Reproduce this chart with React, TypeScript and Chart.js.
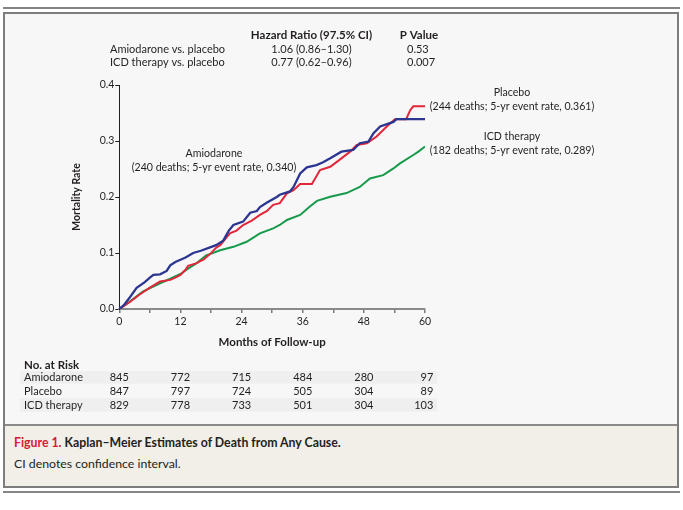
import React, { useEffect, useRef } from "react";
import { Chart, registerables } from "chart.js";
Chart.register(...registerables);

const FONT = "Lato, 'Open Sans', sans-serif";
const TEXT = "#231f20";

// ---- data ----
const amioMonths = [0, 1, 2, 3.4, 5, 6, 6.7, 8, 9.3, 10, 11, 12, 13, 14.5, 16, 17.8, 19, 20.4, 21.5, 22.4, 24.3, 25.7, 27, 27.6, 29, 30.9, 31.5, 33.5, 34.2, 35.5, 36.8, 38.7, 40, 41.4, 43.6, 45.9, 47.2, 48.9, 49.9, 51.2, 53.8, 54.4, 60];
const amioRates = [0, 0.008, 0.02, 0.038, 0.048, 0.056, 0.061, 0.062, 0.068, 0.078, 0.084, 0.088, 0.092, 0.1, 0.104, 0.11, 0.114, 0.122, 0.14, 0.15, 0.156, 0.172, 0.175, 0.182, 0.19, 0.2, 0.204, 0.21, 0.218, 0.242, 0.253, 0.257, 0.262, 0.269, 0.281, 0.284, 0.296, 0.299, 0.314, 0.326, 0.334, 0.339, 0.339];

const placeboMonths = [0, 2, 4, 6, 8, 10, 11, 12, 13, 13.5, 15.2, 15.8, 16.5, 17.8, 19.1, 19.8, 21.7, 23, 24.3, 26, 27.6, 29, 30.2, 31.5, 32.9, 34.2, 35.5, 37.8, 39.4, 41.4, 43.6, 45.3, 46.6, 48.6, 50.5, 52.5, 54.1, 56.3, 57.1, 57.7, 60];
const placeboRates = [0, 0.012, 0.026, 0.038, 0.049, 0.052, 0.056, 0.061, 0.07, 0.077, 0.082, 0.085, 0.088, 0.098, 0.11, 0.114, 0.135, 0.14, 0.15, 0.158, 0.168, 0.175, 0.186, 0.189, 0.2066, 0.212, 0.223, 0.223, 0.248, 0.254, 0.269, 0.281, 0.293, 0.296, 0.308, 0.326, 0.339, 0.339, 0.355, 0.362, 0.362];

const icdMonths = [0, 2, 4.6, 8, 10, 12, 13.5, 15.2, 17.1, 17.8, 19.8, 22.4, 25, 27.6, 30.2, 31.5, 32.9, 35.5, 37.4, 38.8, 41.4, 44.6, 47.2, 49.2, 51.8, 53.8, 55.1, 57.7, 58.7, 60];
const icdRates = [0, 0.013, 0.031, 0.046, 0.054, 0.0625, 0.072, 0.082, 0.096, 0.098, 0.105, 0.111, 0.12, 0.135, 0.144, 0.15, 0.159, 0.168, 0.183, 0.193, 0.2005, 0.207, 0.218, 0.233, 0.239, 0.251, 0.26, 0.275, 0.281, 0.29];

const riskMonths = [0, 12, 24, 36, 48, 60];
const riskGroups = ["Amiodarone", "Placebo", "ICD therapy"];
const riskAmio = [845, 772, 715, 484, 280, 97];
const riskPlacebo = [847, 797, 724, 505, 304, 89];
const riskIcd = [829, 778, 733, 501, 304, 103];

const hrComparisons = ["Amiodarone vs. placebo", "ICD therapy vs. placebo"];
const hrValues = ["1.06 (0.86–1.30)", "0.77 (0.62–0.96)"];
const pValues = ["0.53", "0.007"];

const groupNames = ["Amiodarone", "Placebo", "ICD therapy"];
const groupNotes = [
  "(240 deaths; 5-yr event rate, 0.340)",
  "(244 deaths; 5-yr event rate, 0.361)",
  "(182 deaths; 5-yr event rate, 0.289)",
];

const COLORS = { amio: "#2c3590", placebo: "#e2273a", icd: "#179a4b" };

const textPlugin = {
  id: "textPlugin",
  afterDraw(chart: any) {
    const ctx = chart.ctx as CanvasRenderingContext2D;
    const xs = chart.scales.x;
    ctx.save();
    ctx.fillStyle = TEXT;
    ctx.textBaseline = "middle";

    // hazard table
    ctx.font = `bold 11.5px ${FONT}`;
    ctx.textAlign = "center";
    ctx.fillText("Hazard Ratio (97.5% CI)", 306.5, 21);
    ctx.fillText("P Value", 414, 21);
    ctx.font = `11px ${FONT}`;
    hrComparisons.forEach((c, i) => {
      const y = 35.3 + i * 13.4;
      ctx.textAlign = "left";
      ctx.fillText(c, 105, y);
      ctx.textAlign = "center";
      ctx.fillText(hrValues[i], 306.5, y);
      ctx.textAlign = "left";
      ctx.fillText(pValues[i], 402, y);
    });

    // curve annotations
    ctx.font = `10.6px ${FONT}`;
    ctx.textAlign = "center";
    const ann = [
      [209, 139.3],
      [507, 78.7],
      [507, 122.7],
    ];
    groupNames.forEach((g, i) => {
      ctx.fillText(g, ann[i][0], ann[i][1]);
      ctx.fillText(groupNotes[i], ann[i][0], ann[i][1] + 14);
    });

    // at-risk table
    ctx.fillStyle = "#efefef";
    ctx.fillRect(15, 357, 417, 12.6);
    ctx.fillRect(15, 384, 417, 13.6);
    ctx.fillStyle = TEXT;
    ctx.font = `bold 11.5px ${FONT}`;
    ctx.textAlign = "left";
    ctx.fillText("No. at Risk", 19, 351);
    ctx.font = `11px ${FONT}`;
    const rows = [riskAmio, riskPlacebo, riskIcd];
    rows.forEach((r, i) => {
      const y = 363.3 + i * 13.9;
      ctx.textAlign = "left";
      ctx.fillText(riskGroups[i], 19, y);
      r.forEach((n, j) => {
        const px = xs.getPixelForValue(riskMonths[j]);
        if (j === r.length - 1) {
          ctx.textAlign = "right";
          ctx.fillText(String(n), px + 8.3, y);
        } else {
          ctx.textAlign = "center";
          ctx.fillText(String(n), px, y);
        }
      });
    });
    ctx.restore();
  },
};

function toPts(m: number[], v: number[]) {
  return m.map((x, i) => ({ x, y: v[i] }));
}

export default function App() {
  const ref = useRef<HTMLCanvasElement>(null);
  useEffect(() => {
    if (!ref.current) return;
    const tickFont = { family: FONT, size: 10.5 };
    const chart = new Chart(ref.current, {
      type: "line",
      data: {
        datasets: [
          { label: "Amiodarone", data: toPts(amioMonths, amioRates), borderColor: COLORS.amio, borderWidth: 2.3, pointRadius: 0, tension: 0, fill: false },
          { label: "Placebo", data: toPts(placeboMonths, placeboRates), borderColor: COLORS.placebo, borderWidth: 2, pointRadius: 0, tension: 0, fill: false },
          { label: "ICD therapy", data: toPts(icdMonths, icdRates), borderColor: COLORS.icd, borderWidth: 2, pointRadius: 0, tension: 0, fill: false },
        ],
      },
      options: {
        animation: false,
        responsive: false,
        layout: { padding: { top: 71, left: 60, right: 252, bottom: 71 } },
        plugins: { legend: { display: false }, tooltip: { enabled: false } },
        scales: {
          x: {
            type: "linear",
            min: 0,
            max: 60,
            ticks: {
              stepSize: 6,
              autoSkip: false,
              maxRotation: 0,
              color: TEXT,
              font: tickFont,
              padding: 2,
              callback: (v: any) => (Number(v) % 12 === 0 ? String(v) : ""),
            },
            grid: { drawOnChartArea: false, tickLength: 4, color: "#7a7a7a", lineWidth: 1.5 },
            border: { color: "#8a8a8a", width: 2 },
            title: { display: true, text: "Months of Follow-up", color: TEXT, font: { family: FONT, size: 11.5, weight: "bold" }, padding: { top: 0, bottom: 4.1 } },
            afterFit: (s: any) => { s.height = 44; },
          },
          y: {
            min: 0,
            max: 0.4,
            ticks: { stepSize: 0.1, color: TEXT, font: tickFont, padding: 1, callback: (v: any) => Number(v).toFixed(1) },
            grid: { drawOnChartArea: false, tickLength: 4, color: "#231f20", lineWidth: 1 },
            border: { color: "#231f20", width: 1 },
            title: { display: true, text: "Mortality Rate", color: TEXT, font: { family: FONT, size: 10.5, weight: "bold" }, padding: { top: 5.7, bottom: 0 } },
            afterFit: (s: any) => { s.width = 54.3; },
          },
        },
      } as any,
      plugins: [textPlugin],
    });
    return () => chart.destroy();
  }, []);

  return (
    <div style={{ position: "absolute", left: 0, top: 0, width: 683, height: 510, background: "#ffffff", fontFamily: FONT, color: TEXT }}>
      <div style={{ position: "absolute", left: 3, top: 7, width: 677, height: 2, background: "#858585" }} />
      <div style={{ position: "absolute", left: 3, top: 12, width: 672, height: 472, border: "2px solid #7d7d7d", background: "#f7f7f7" }}>
        <div style={{ position: "absolute", left: 0, top: 0, width: 672, height: 410 }}>
          <canvas ref={ref} width={672} height={410} style={{ display: "block" }} />
        </div>
        <div style={{ position: "absolute", left: 0, top: 410, width: 672, height: 2, background: "#8a8a8a" }} />
        <div style={{ position: "absolute", left: 0, top: 412, width: 672, height: 60, background: "#f2eee8" }}>
          <div style={{ position: "absolute", left: 9, top: 9, fontSize: 12.3, lineHeight: "15px", whiteSpace: "nowrap" }}>
            <span style={{ color: "#d3202f", fontWeight: "bold" }}>Figure 1. </span>
            <span style={{ fontWeight: "bold" }}>Kaplan–Meier Estimates of Death from Any Cause.</span>
          </div>
          <div style={{ position: "absolute", left: 9, top: 30, fontSize: 12.3, lineHeight: "15px", whiteSpace: "nowrap" }}>
            CI denotes confidence interval.
          </div>
        </div>
      </div>
      <div style={{ position: "absolute", left: 3, top: 491, width: 677, height: 2, background: "#858585" }} />
    </div>
  );
}
